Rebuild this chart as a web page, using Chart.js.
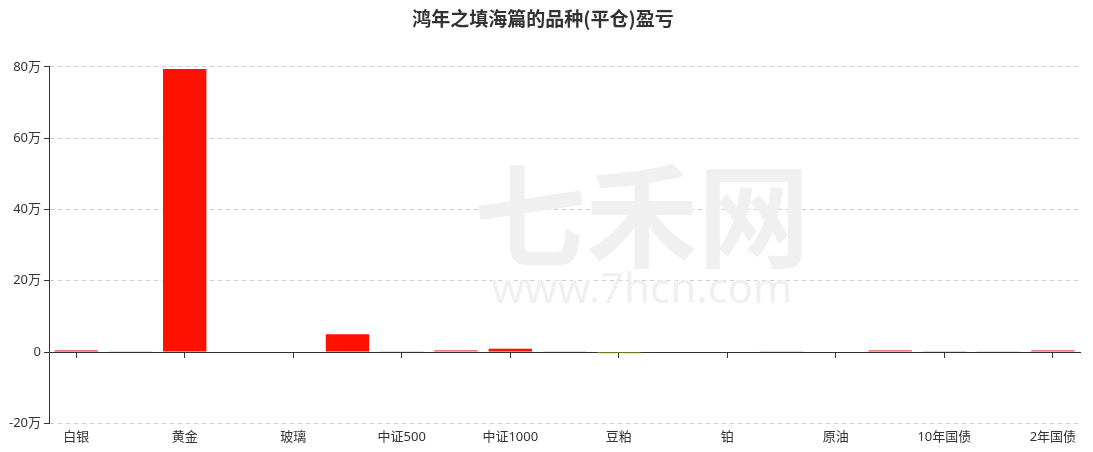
<!DOCTYPE html>
<html>
<head>
<meta charset="utf-8">
<script src="https://cdn.jsdelivr.net/npm/chart.js@4/dist/chart.umd.min.js"></script>
<style>
  html, body { margin: 0; padding: 0; background: #fff; }
  #wrap { width: 1093px; height: 452px; }
</style>
</head>
<body>
<div id="wrap"><canvas id="pnlBars"></canvas></div>
<script>
// categories (only every other one gets a label on the axis)
var products = ['白银', '铜', '黄金', '螺纹钢', '玻璃', '甲醇', '中证500', '沪深300', '中证1000', '上证50',
    '豆粕', '豆油', '铂', '钯', '原油', '5年国债', '10年国债', '30年国债', '2年国债'];
// closed profit / loss, yuan
var profit = [5000, 3000, 794000, 0, 0, 50000, 3000, 5000, 9000, 3000,
    -3000, 0, 0, 3000, 0, 5000, 2000, 3000, 5000];
var barColors = ['#d8413a', '#f2b3b0', '#ff1100', '#ff1100', '#ff1100', '#ff1100', '#f2b3b0', '#e0574f', '#ff1100', '#f2b3b0',
    '#a3c90a', '#f2b3b0', '#f2b3b0', '#eeaaa6', '#f2b3b0', '#e0574f', '#b5473f', '#f2b3b0', '#e0574f'];
var yTicks = [-200000, 0, 200000, 400000, 600000, 800000];

var labelFont = { family: '"Noto Sans", "Noto Sans CJK SC"', size: 13 };

var watermark = {
    id: 'watermark',
    beforeDatasetsDraw: function(chart) {
        var ctx = chart.ctx, a = chart.chartArea;
        ctx.save();
        ctx.fillStyle = '#f0f0f0';
        ctx.textAlign = 'center';
        ctx.textBaseline = 'middle';
        var cx = a.left + (a.right - a.left) * 0.575;
        ctx.font = 'bold 112px "Noto Sans CJK SC"';
        ctx.fillText('七禾网', cx, a.top + (a.bottom - a.top) * 0.42);
        ctx.font = '42px "Noto Sans"';
        ctx.fillText('www.7hcn.com', cx, a.top + (a.bottom - a.top) * 0.63);
        ctx.restore();
    }
};

var ctx = document.getElementById('pnlBars').getContext('2d');
var chart = new Chart(ctx, {
    type: 'bar',
    data: {
        labels: products,
        datasets: [{
            label: '盈亏',
            data: profit,
            backgroundColor: barColors,
            borderWidth: 0,
            categoryPercentage: 1,
            barPercentage: 0.8,
            xAxisID: 'x'
        }]
    },
    options: {
        responsive: true,
        maintainAspectRatio: false,
        animation: false,
        layout: { padding: { left: 6, right: 13, top: 0, bottom: 1 } },
        plugins: {
            legend: { display: false },
            tooltip: { enabled: false },
            title: {
                display: true,
                text: '鸿年之填海篇的品种(平仓)盈亏',
                color: '#333',
                font: { family: '"Noto Sans CJK SC"', size: 19, weight: 'bold' },
                padding: { top: 7, bottom: 37 }
            }
        },
        scales: {
            x: {
                position: 'bottom',
                offset: true,
                border: { display: false },
                grid: { display: false, drawTicks: false },
                ticks: {
                    autoSkip: false,
                    maxRotation: 0,
                    padding: 6,
                    color: '#333',
                    font: labelFont,
                    callback: function(v, i) { return i % 2 === 0 ? products[i] : ''; }
                }
            },
            x0: {
                type: 'category',
                labels: products,
                position: { y: 0 },
                offset: true,
                border: { display: true, color: '#333', width: 1 },
                grid: {
                    offset: false,
                    drawOnChartArea: false,
                    drawTicks: true,
                    tickLength: 5,
                    tickColor: function(c) { return c.index % 2 === 0 ? '#333' : 'rgba(0,0,0,0)'; }
                },
                ticks: { display: false }
            },
            y: {
                min: -200000,
                max: 800000,
                afterBuildTicks: function(axis) {
                    axis.ticks = yTicks.map(function(v) { return { value: v }; });
                },
                grid: {
                    color: function(c) { return c.tick && c.tick.value === 0 ? 'rgba(0,0,0,0)' : '#ccc'; },
                    tickColor: '#333',
                    tickLength: 5,
                    lineWidth: 1
                },
                // in v4 border.dash styles the grid lines
                border: { display: true, color: '#333', width: 1, dash: [4, 4] },
                ticks: {
                    padding: 3,
                    color: '#333',
                    font: labelFont,
                    callback: function(v) { return v === 0 ? '0' : (v / 10000) + '万'; }
                }
            }
        }
    },
    plugins: [watermark]
});
</script>
</body>
</html>
